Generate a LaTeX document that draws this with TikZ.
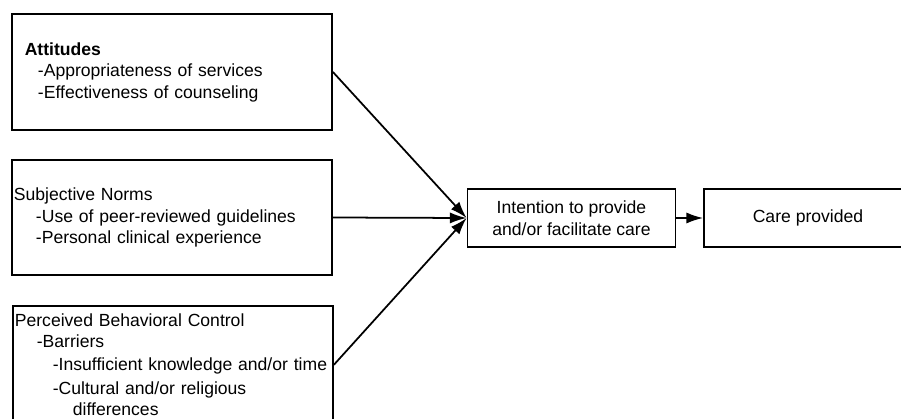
\documentclass[tikz,border=0pt]{standalone}
\usepackage{fontspec}
\setmainfont{Liberation Sans}
\usepackage{tikz}
\usetikzlibrary{arrows.meta}

\begin{document}
\begin{tikzpicture}[
  x=0.025cm, y=-0.025cm,
  factor/.style={draw, line width=1.25pt, align=left, inner ysep=3pt,
    font=\fontsize{12.5}{15.3}\selectfont},
  stage/.style={draw, line width=1.25pt, align=center, minimum width=5.2cm,
    minimum height=1.45cm, font=\fontsize{12.5}{15.3}\selectfont},
  edge/.style={-{Latex[length=4.2mm, width=2.8mm]}, line width=1.25pt}
]
\useasboundingbox (0,0) rectangle (901,419);
\clip (0,0) rectangle (901,419);

\node[factor, inner xsep=0.32cm, text width=7.36cm, minimum height=2.9cm] (att) at (172,72)
  {\textbf{Attitudes}\\
   \hspace*{0.33cm}-Appropriateness of services\\
   \hspace*{0.33cm}-Effectiveness of counseling};
\node[factor, inner xsep=0.05cm, text width=7.9cm, minimum height=2.875cm] (norms) at (172,217.5)
  {Subjective Norms\\
   \hspace*{0.55cm}-Use of peer-reviewed guidelines\\
   \hspace*{0.55cm}-Personal clinical experience};
\node[factor, inner xsep=0.05cm, inner ysep=5.5pt, text width=7.9cm, anchor=north west] (pbc) at (12,305)
  {Perceived Behavioral Control\\
   \hspace*{0.55cm}-Barriers\\[1pt]
   \hspace*{0.95cm}-Insufficient knowledge and/or time\\[1.5pt]
   \hspace*{0.95cm}-Cultural and/or religious\\
   \hspace*{1.45cm}differences};

\node[stage] (intent) at (571.5,218) {Intention to provide\\and/or facilitate care};
\node[stage] (care) at (808,218) {Care provided};

\draw[edge] (att.east) -- (intent.west);
\draw[edge] (norms.east) -- (intent.west);
\draw[edge] (pbc.east) -- (intent.west);
\draw[edge] (intent) -- (care);
\end{tikzpicture}
\end{document}
